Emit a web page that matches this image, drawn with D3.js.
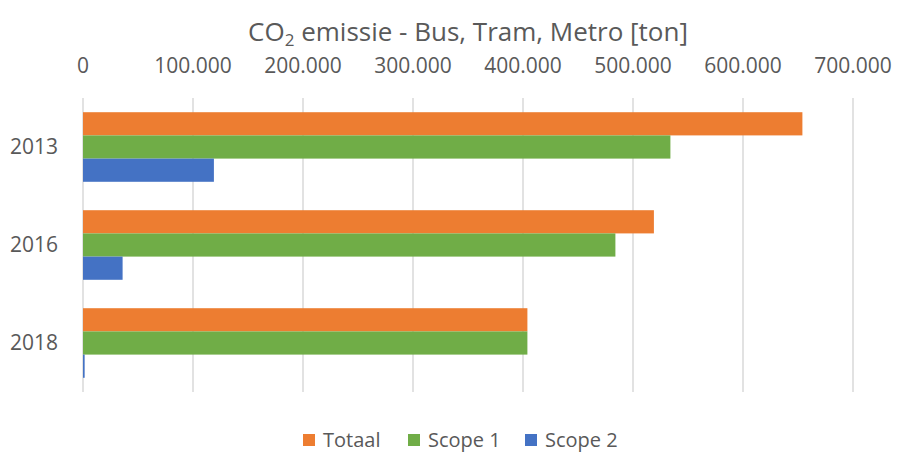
<!DOCTYPE html>
<meta charset="utf-8">
<title>CO2 emissie</title>
<style>
body { margin: 0; background: #fff; }
text { font-family: "Open Sans", sans-serif; fill: #595959; }
.grid line { stroke: #d9d9d9; stroke-width: 1.5px; }
</style>
<svg width="897" height="454"></svg>
<script src="https://d3js.org/d3.v7.min.js"></script>
<script>

// data (ton)
var years = ["2013", "2016", "2018"];
var series = ["Totaal", "Scope 1", "Scope 2"];
var totaal = [654000, 519000, 404000];
var scope1 = [534000, 484000, 404000];
var scope2 = [119000, 36000, 1500];
var ticks = [0, 100000, 200000, 300000, 400000, 500000, 600000, 700000];
var colors = ["#ed7d31", "#70ad47", "#4472c4"];

var values = [totaal, scope1, scope2];

var svg = d3.select("svg");

var x = d3.scaleLinear().domain([0, 700000]).range([83, 853]);

var y = d3.scaleBand()
    .domain(years)
    .range([98, 392])
    .paddingInner(0.29)
    .paddingOuter(0.145);

var ySub = d3.scaleBand()
    .domain(series)
    .range([0, y.bandwidth()]);

var fmt = function(d) { return d3.format(",")(d).replace(/,/g, "."); };

// gridlines
svg.append("g").attr("class", "grid")
  .selectAll("line")
  .data(ticks)
  .enter().append("line")
    .attr("x1", d => x(d)).attr("x2", d => x(d))
    .attr("y1", 98).attr("y2", 392);

// top axis labels
svg.append("g")
  .selectAll("text")
  .data(ticks)
  .enter().append("text")
    .attr("x", d => x(d))
    .attr("y", 73)
    .attr("text-anchor", "middle")
    .style("font-size", "21px")
    .text(fmt);

// bars
var groups = svg.append("g")
  .selectAll("g")
  .data(years)
  .enter().append("g")
    .attr("transform", d => "translate(0," + y(d) + ")");

groups.selectAll("rect")
  .data((yr, i) => series.map((s, j) => ({s: s, v: values[j][i], c: colors[j]})))
  .enter().append("rect")
    .attr("x", x(0))
    .attr("y", d => ySub(d.s))
    .attr("width", d => x(d.v) - x(0))
    .attr("height", ySub.bandwidth())
    .attr("fill", d => d.c);

// year labels
svg.append("g")
  .selectAll("text")
  .data(years)
  .enter().append("text")
    .attr("x", 58)
    .attr("y", d => y(d) + y.bandwidth() / 2)
    .attr("dy", "0.35em")
    .attr("text-anchor", "end")
    .style("font-size", "21px")
    .text(d => d);

// title
var title = svg.append("text")
    .attr("x", 468)
    .attr("y", 41)
    .attr("text-anchor", "middle")
    .style("font-size", "26px");
title.append("tspan").text("CO");
title.append("tspan").attr("dy", 5).style("font-size", "17px").text("2");
title.append("tspan").attr("dy", -5).text(" emissie - Bus, Tram, Metro [ton]");

// legend
var legX = [303, 408, 525];
var leg = svg.append("g")
  .selectAll("g")
  .data(series)
  .enter().append("g")
    .attr("transform", (d, i) => "translate(" + legX[i] + ",434)");

leg.append("rect")
    .attr("width", 12).attr("height", 12)
    .attr("fill", (d, i) => colors[i]);

leg.append("text")
    .attr("x", 20)
    .attr("y", 6)
    .attr("dy", "0.33em")
    .style("font-size", "20px")
    .text(d => d);

</script>
